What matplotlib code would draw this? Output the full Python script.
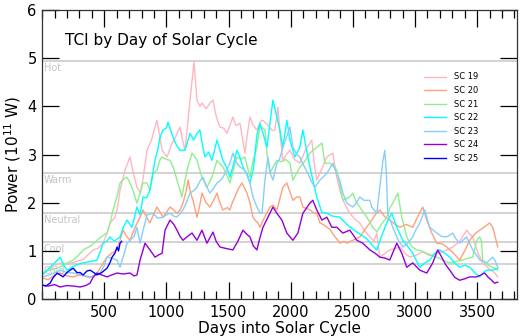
import numpy as np
import matplotlib
matplotlib.use('Agg')
import matplotlib.pyplot as plt
from matplotlib.ticker import MultipleLocator

# TCI (thermosphere climate index) per cycle, days since cycle start
sc19_days = [0, 40, 80, 145, 200, 250, 300, 330, 370, 410, 450, 490, 520, 547, 587, 610, 627, 667, 707, 735, 763, 790, 812, 844, 880, 924, 945, 965, 1005, 1040, 1070, 1109, 1130, 1150, 1170, 1190, 1222, 1246, 1270, 1286, 1320, 1350, 1375, 1400, 1431, 1460, 1487, 1510, 1535, 1560, 1592, 1632, 1650, 1672, 1700, 1728, 1760, 1777, 1820, 1850, 1873, 1897, 1915, 1937, 1965, 1994, 2030, 2074, 2120, 2170, 2190, 2210, 2250, 2291, 2339, 2365, 2395, 2430, 2476, 2520, 2556, 2600, 2637, 2670, 2693, 2717, 2760, 2797, 2840, 2878, 2920, 2958, 3000, 3060, 3120, 3175, 3240, 3304, 3360, 3416, 3440, 3465, 3500, 3545, 3600, 3640, 3666]
sc19_tci = [0.52, 0.58, 0.66, 0.75, 0.72, 0.76, 0.8, 0.82, 0.92, 1.02, 1.05, 1.16, 1.35, 1.58, 1.70, 1.95, 2.26, 2.68, 2.95, 2.6, 2.32, 2.2, 2.5, 3.09, 3.3, 3.71, 3.4, 3.09, 2.95, 3.2, 3.35, 3.57, 3.3, 3.09, 3.6, 4.13, 4.92, 4.13, 4.0, 4.07, 3.95, 4.07, 4.13, 3.8, 3.57, 3.55, 3.44, 3.6, 3.78, 3.6, 3.65, 3.03, 3.4, 3.78, 3.6, 3.51, 3.7, 3.71, 3.6, 3.5, 3.51, 3.98, 3.4, 2.88, 3.0, 3.09, 2.9, 2.82, 3.1, 3.30, 2.8, 2.47, 2.7, 2.95, 3.03, 2.6, 2.26, 2.0, 1.78, 1.65, 1.58, 1.4, 1.29, 1.2, 1.37, 0.87, 0.95, 1.02, 1.05, 1.08, 0.95, 0.87, 0.9, 0.98, 0.9, 0.95, 1.0, 1.08, 1.2, 1.43, 1.35, 1.29, 1.0, 0.75, 0.62, 0.55, 0.46]

sc20_days = [0, 50, 100, 145, 200, 250, 300, 350, 386, 442, 480, 522, 560, 603, 630, 651, 680, 707, 750, 788, 812, 840, 868, 895, 924, 950, 973, 1000, 1029, 1060, 1085, 1110, 1133, 1155, 1174, 1195, 1214, 1246, 1265, 1286, 1320, 1350, 1380, 1407, 1430, 1455, 1490, 1511, 1530, 1551, 1580, 1608, 1630, 1648, 1672, 1696, 1712, 1736, 1752, 1790, 1833, 1860, 1889, 1915, 1937, 1969, 1990, 2018, 2050, 2074, 2098, 2130, 2154, 2190, 2210, 2235, 2260, 2291, 2315, 2340, 2371, 2395, 2430, 2452, 2500, 2556, 2600, 2637, 2680, 2717, 2760, 2797, 2840, 2878, 2930, 2982, 3020, 3063, 3095, 3130, 3175, 3215, 3256, 3310, 3360, 3400, 3441, 3480, 3521, 3560, 3601, 3625, 3645, 3666]
sc20_tci = [0.44, 0.4, 0.5, 0.54, 0.48, 0.46, 0.5, 0.47, 0.44, 0.54, 0.7, 0.87, 0.95, 1.02, 1.25, 1.43, 1.3, 1.22, 1.5, 1.70, 1.85, 1.7, 1.58, 1.75, 1.91, 1.8, 1.70, 1.8, 1.91, 1.85, 1.78, 1.85, 1.99, 2.2, 2.47, 2.2, 2.05, 1.70, 1.9, 2.20, 2.0, 1.91, 2.05, 2.20, 2.0, 1.85, 1.9, 1.85, 2.0, 2.12, 2.3, 2.41, 2.3, 2.20, 2.0, 1.70, 1.64, 1.58, 1.49, 1.7, 1.91, 1.95, 1.85, 2.1, 2.32, 2.41, 2.25, 2.05, 2.12, 2.12, 1.91, 1.88, 1.85, 1.78, 1.78, 1.58, 1.55, 1.49, 1.45, 1.35, 1.25, 1.16, 1.2, 1.16, 1.22, 1.29, 1.45, 1.58, 1.75, 1.85, 1.7, 1.64, 1.55, 1.49, 1.55, 1.49, 1.7, 1.91, 1.64, 1.4, 1.16, 1.15, 1.08, 0.95, 0.81, 1.0, 1.22, 1.35, 1.43, 1.5, 1.58, 1.49, 1.3, 1.08]

sc21_days = [0, 60, 121, 180, 250, 290, 330, 390, 442, 480, 522, 550, 571, 600, 627, 660, 683, 707, 731, 763, 788, 812, 844, 868, 892, 924, 949, 965, 1000, 1029, 1060, 1085, 1105, 1125, 1145, 1166, 1206, 1246, 1286, 1326, 1367, 1407, 1455, 1490, 1511, 1540, 1567, 1600, 1632, 1672, 1700, 1728, 1752, 1793, 1810, 1833, 1860, 1889, 1930, 1960, 1994, 2018, 2045, 2074, 2110, 2154, 2210, 2251, 2275, 2315, 2371, 2400, 2420, 2476, 2500, 2530, 2556, 2613, 2661, 2693, 2730, 2773, 2800, 2822, 2862, 2894, 2934, 2970, 3014, 3055, 3095, 3140, 3175, 3230, 3280, 3330, 3384, 3430, 3465, 3497, 3521, 3535, 3545, 3590, 3625, 3666]
sc21_tci = [0.54, 0.6, 0.64, 0.72, 0.81, 0.9, 1.02, 1.1, 1.22, 1.3, 1.37, 1.6, 1.85, 2.1, 2.41, 2.5, 2.53, 2.41, 2.26, 1.99, 2.20, 2.41, 2.41, 2.26, 2.6, 2.68, 2.9, 2.95, 2.9, 2.88, 2.7, 2.47, 2.3, 2.12, 2.4, 2.68, 3.03, 2.88, 2.53, 2.32, 2.53, 2.88, 2.74, 2.55, 2.41, 2.7, 2.95, 2.9, 2.95, 2.53, 2.9, 3.15, 3.60, 3.51, 3.0, 2.61, 2.75, 2.88, 2.85, 2.9, 2.82, 2.47, 2.6, 2.74, 2.85, 3.03, 3.15, 3.24, 2.82, 2.82, 2.68, 2.3, 2.05, 2.12, 2.20, 2.0, 1.91, 1.70, 1.49, 1.40, 1.55, 1.70, 1.9, 1.99, 2.20, 1.70, 1.29, 1.1, 1.02, 1.0, 0.95, 0.9, 0.87, 0.8, 0.75, 0.78, 0.81, 0.85, 0.87, 1.22, 1.29, 1.2, 0.81, 0.7, 0.66, 0.60]

sc22_days = [0, 40, 80, 120, 145, 175, 201, 250, 290, 330, 390, 442, 470, 490, 520, 547, 580, 627, 655, 683, 707, 723, 763, 788, 812, 840, 868, 908, 930, 949, 973, 1000, 1013, 1035, 1053, 1080, 1109, 1150, 1190, 1220, 1246, 1270, 1290, 1310, 1340, 1367, 1407, 1430, 1455, 1490, 1511, 1540, 1567, 1590, 1616, 1645, 1672, 1700, 1728, 1752, 1777, 1809, 1833, 1857, 1889, 1913, 1937, 1969, 1994, 2034, 2074, 2098, 2138, 2178, 2210, 2251, 2291, 2339, 2395, 2452, 2500, 2556, 2613, 2661, 2693, 2730, 2773, 2813, 2854, 2902, 2940, 2982, 3039, 3080, 3119, 3160, 3199, 3240, 3280, 3320, 3360, 3400, 3441, 3480, 3521, 3550, 3577, 3625, 3666]
sc22_tci = [0.50, 0.6, 0.7, 0.8, 0.87, 0.7, 0.60, 0.68, 0.72, 0.75, 0.78, 0.81, 1.0, 1.16, 1.2, 1.29, 1.2, 1.29, 1.5, 1.64, 1.55, 1.49, 1.91, 1.75, 2.12, 2.1, 2.26, 2.88, 3.1, 3.36, 3.51, 3.55, 3.67, 3.5, 3.36, 3.2, 3.09, 3.09, 3.44, 3.3, 3.44, 3.51, 3.2, 2.95, 3.05, 2.88, 3.30, 3.1, 2.88, 2.7, 2.53, 2.8, 3.09, 2.95, 2.74, 2.6, 2.41, 2.7, 3.4, 3.65, 3.44, 3.15, 3.65, 4.13, 3.78, 3.51, 3.15, 3.71, 3.30, 2.95, 3.15, 3.51, 2.95, 2.47, 2.12, 1.8, 1.78, 1.72, 1.7, 1.55, 1.45, 1.35, 1.25, 1.1, 1.02, 1.3, 1.58, 1.78, 1.49, 1.22, 1.1, 0.95, 0.66, 0.75, 0.81, 0.95, 1.02, 0.95, 0.87, 0.75, 0.66, 0.7, 0.66, 0.55, 0.46, 0.55, 0.60, 0.60, 0.64]

sc23_days = [0, 60, 145, 200, 250, 320, 386, 430, 466, 500, 522, 560, 603, 627, 655, 683, 707, 740, 763, 788, 810, 844, 892, 930, 973, 1000, 1029, 1060, 1085, 1110, 1133, 1160, 1190, 1220, 1246, 1270, 1294, 1320, 1350, 1380, 1407, 1430, 1455, 1490, 1511, 1535, 1560, 1592, 1620, 1648, 1672, 1696, 1728, 1750, 1769, 1793, 1817, 1837, 1857, 1889, 1910, 1937, 1965, 1994, 2018, 2050, 2074, 2100, 2138, 2165, 2194, 2235, 2291, 2339, 2370, 2395, 2420, 2452, 2500, 2530, 2556, 2590, 2613, 2637, 2653, 2693, 2717, 2741, 2757, 2770, 2781, 2822, 2860, 2902, 2940, 2982, 3010, 3039, 3079, 3100, 3119, 3175, 3215, 3256, 3304, 3330, 3360, 3416, 3440, 3465, 3500, 3521, 3577, 3625, 3645, 3666]
sc23_tci = [0.46, 0.5, 0.60, 0.55, 0.54, 0.5, 0.46, 0.5, 0.54, 0.7, 0.87, 0.85, 0.81, 0.66, 0.9, 1.16, 1.22, 1.3, 1.49, 1.16, 1.4, 1.75, 1.78, 1.68, 1.70, 1.75, 1.78, 1.72, 1.70, 1.78, 1.85, 2.0, 2.20, 2.25, 2.32, 2.45, 2.53, 2.35, 2.20, 2.3, 2.41, 2.45, 2.53, 2.7, 2.82, 3.03, 2.85, 2.74, 2.7, 2.61, 2.41, 2.12, 1.91, 1.8, 1.78, 2.47, 2.95, 2.6, 2.47, 2.82, 2.9, 3.15, 3.35, 3.57, 3.15, 3.0, 2.95, 2.8, 2.61, 2.45, 2.32, 2.47, 2.61, 2.82, 2.6, 2.47, 2.2, 1.99, 1.91, 2.0, 2.12, 2.05, 2.05, 2.05, 1.91, 1.78, 2.32, 2.85, 3.09, 2.6, 1.78, 1.49, 1.25, 1.08, 1.15, 1.29, 1.45, 1.58, 1.85, 1.65, 1.49, 1.37, 1.3, 1.29, 1.37, 1.25, 1.16, 1.29, 1.15, 1.02, 0.9, 0.81, 0.75, 0.87, 0.8, 0.66]

sc24_days = [0, 50, 100, 145, 200, 250, 306, 350, 386, 410, 442, 480, 522, 560, 603, 650, 707, 740, 763, 788, 810, 828, 868, 908, 940, 965, 989, 1029, 1060, 1085, 1110, 1133, 1170, 1206, 1246, 1286, 1326, 1375, 1400, 1431, 1480, 1535, 1575, 1616, 1645, 1672, 1700, 1728, 1750, 1777, 1817, 1857, 1889, 1929, 1969, 2018, 2058, 2098, 2154, 2178, 2210, 2251, 2291, 2331, 2371, 2420, 2476, 2532, 2580, 2637, 2680, 2717, 2760, 2797, 2854, 2894, 2934, 2982, 3039, 3095, 3143, 3183, 3215, 3250, 3280, 3320, 3360, 3400, 3441, 3497, 3530, 3561, 3590, 3617, 3640, 3666]
sc24_tci = [0.29, 0.27, 0.3, 0.25, 0.28, 0.27, 0.25, 0.28, 0.33, 0.45, 0.54, 0.5, 0.46, 0.5, 0.54, 0.52, 0.54, 0.48, 0.50, 0.81, 1.0, 1.16, 1.02, 0.87, 0.92, 0.95, 1.43, 1.64, 1.55, 1.43, 1.3, 1.22, 1.3, 1.37, 1.22, 1.43, 1.16, 1.39, 1.2, 1.08, 1.05, 1.02, 1.2, 1.43, 1.35, 1.29, 1.1, 1.02, 1.25, 1.49, 1.70, 1.91, 1.78, 1.64, 1.37, 1.22, 1.37, 1.78, 1.99, 2.05, 1.85, 1.64, 1.70, 1.49, 1.49, 1.37, 1.43, 1.22, 1.16, 1.02, 0.95, 0.87, 0.85, 0.81, 1.16, 0.95, 0.66, 0.75, 0.60, 0.54, 0.75, 1.02, 0.87, 0.7, 0.60, 0.45, 0.39, 0.42, 0.46, 0.46, 0.5, 0.54, 0.45, 0.39, 0.33, 0.35]

sc25_days = [0, 30, 64, 90, 121, 145, 169, 200, 225, 250, 280, 306, 330, 360, 386, 415, 442, 480, 522, 545, 563, 585, 603, 615, 627, 640]
sc25_tci = [0.29, 0.27, 0.33, 0.45, 0.54, 0.5, 0.46, 0.55, 0.6, 0.64, 0.55, 0.55, 0.50, 0.58, 0.60, 0.55, 0.50, 0.55, 0.64, 0.75, 0.87, 0.95, 1.08, 1.0, 1.16, 1.2]

labels = ['SC 19', 'SC 20', 'SC 21', 'SC 22', 'SC 23', 'SC 24', 'SC 25']
colors = ['lightpink', 'lightsalmon', 'lightgreen', 'cyan', 'lightskyblue', 'darkviolet', 'blue']

# reference levels
level_names = ['Hot', 'Warm', 'Neutral', 'Cool', 'Cold']
level_values = [4.95, 2.61, 1.79, 1.18, 0.73]

days = [sc19_days, sc20_days, sc21_days, sc22_days, sc23_days, sc24_days, sc25_days]
tci = [sc19_tci, sc20_tci, sc21_tci, sc22_tci, sc23_tci, sc24_tci, sc25_tci]

fig = plt.figure(figsize=(5.2, 3.36), dpi=100)
ax = fig.add_axes([0.081, 0.110, 0.913, 0.860])

for name, val in zip(level_names, level_values):
    ax.axhline(val, color='#cccccc', lw=1.2, zorder=1)
    ax.text(15, val - 0.04, name, color='#c4c4c4', fontsize=7, va='top', ha='left', zorder=1)

for d, v, lab, c in zip(days, tci, labels, colors):
    ax.plot(d, v, color=c, lw=1.0, label=lab, zorder=2)

ax.set_xlim(0, 3820)
ax.set_ylim(0, 6)
ax.xaxis.set_major_locator(MultipleLocator(500))
ax.xaxis.set_minor_locator(MultipleLocator(100))
ax.yaxis.set_major_locator(MultipleLocator(1))
ax.set_xticks([500, 1000, 1500, 2000, 2500, 3000, 3500])
ax.tick_params(which='major', direction='in', length=12, width=0.9, top=True, right=True, labelsize=10.5, pad=4)
ax.tick_params(which='minor', direction='in', length=6, width=0.9, top=True, right=False)
ax.tick_params(axis='y', which='minor', left=False, right=False)
for sp in ax.spines.values():
    sp.set_linewidth(0.9)
    sp.set_color('#333333')

ax.text(0.048, 0.895, 'TCI by Day of Solar Cycle', transform=ax.transAxes, fontsize=11, va='center')
ax.set_xlabel('Days into Solar Cycle', fontsize=11, labelpad=1)
ax.set_ylabel('Power (10$^{11}$ W)', fontsize=11, labelpad=3)

ax.legend(loc='upper right', bbox_to_anchor=(0.935, 0.81), frameon=False, fontsize=6,
          handlelength=2.6, labelspacing=0.55, handletextpad=1.0)

fig.savefig('out.png', dpi=100)
